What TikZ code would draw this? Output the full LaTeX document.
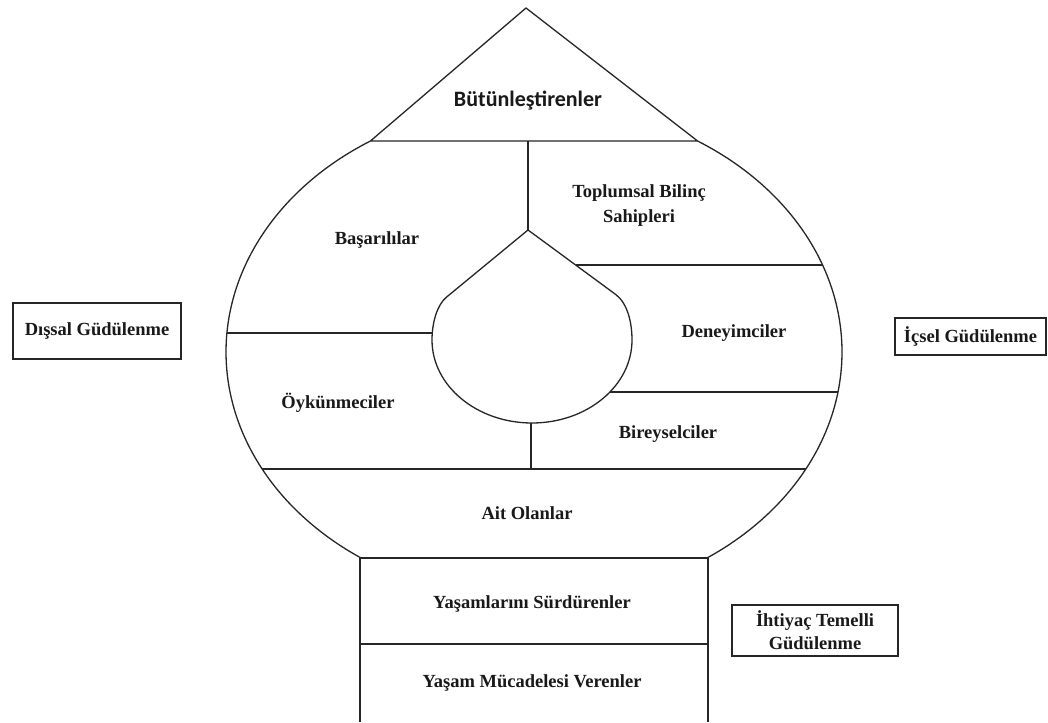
\documentclass[tikz,border=0pt]{standalone}
\usepackage{fontspec}
\setmainfont{Liberation Serif}
\newfontfamily\calfont{Carlito}
\usetikzlibrary{calc}

\begin{document}
\begin{tikzpicture}[x=1pt,y=1pt,
  outline/.style={line width=1.3pt, draw=black!85, line join=round},
  lbl/.style={font=\fontsize{18.5}{25}\selectfont\bfseries, align=center, inner sep=0pt, text=black!90},
  sidebox/.style={lbl, draw=black!85, line width=1.3pt}]
\useasboundingbox (0,0) rectangle (1048,722);
\fill[white] (0,0) rectangle (1048,722);

% outer onion body (ellipse) and its pointed top
\coordinate (C) at (534,370);
\coordinate (top) at (526,714);
\coordinate (TL) at ($(C)+(122.1:308pt and 249pt)$);
\coordinate (TR) at ($(C)+(57.9:308pt and 249pt)$);
\coordinate (BL) at ($(C)+(235.8:308pt and 249pt)$);
\coordinate (BR) at ($(C)+(-55.8:308pt and 249pt)$);

\draw[outline] (top) -- (TR) -- (TL) -- cycle;
\draw[outline] (TL) arc[start angle=122.1, end angle=235.8, x radius=308pt, y radius=249pt];
\draw[outline] (TR) arc[start angle=57.9, end angle=-55.8, x radius=308pt, y radius=249pt];

% neck
\coordinate (NL) at (360,164);
\coordinate (NR) at (708,164);
\coordinate (NLb) at (360,0);
\coordinate (NRb) at (708,0);
\coordinate (ML) at (360,78);
\coordinate (MR) at (708,78);
\draw[outline] (NLb) -- (NL) -- (NR) -- (NRb);
\draw[outline] (ML) -- (MR);

% inner drop: pointed top, rounded bottom
\coordinate (D) at (528,492);
\coordinate (DL) at (446.3,424.7);
\coordinate (DR) at (615.6,427.6);
\coordinate (DW) at (432,382);
\coordinate (DE) at (632,382);
\draw[outline] (D) -- (DL) .. controls (437,417) and (432,399) .. (DW)
  arc[start angle=180, end angle=360, x radius=100pt, y radius=83pt]
  .. controls (632,399) and (627.7,418.7) .. (DR) -- cycle;

% dividers
\coordinate (V1a) at (528,581);
\coordinate (V2a) at (531,299);
\coordinate (V2b) at (531,253);
\coordinate (L1a) at (226.9,389);
\coordinate (L1b) at (432.2,389);
\coordinate (R1a) at (575.6,457);
\coordinate (R1b) at (822.6,457);
\coordinate (R2a) at (609.9,330);
\coordinate (R2b) at (838.0,330);
\coordinate (A1) at (262.1,253);
\coordinate (A2) at (805.9,253);
\draw[outline] (V1a) -- (D);
\draw[outline] (V2a) -- (V2b);
\draw[outline] (L1a) -- (L1b);
\draw[outline] (R1a) -- (R1b);
\draw[outline] (R2a) -- (R2b);
\draw[outline] (A1) -- (A2);

% labels
\node[lbl, font=\calfont\fontsize{22}{26}\selectfont\bfseries] (but) at (528,621) {Bütünleştirenler};
\node[lbl] (top2) at (639,516) {Toplumsal Bilinç\\Sahipleri};
\node[lbl] (bas) at (377,482) {Başarılılar};
\node[lbl] (oyk) at (338,319) {Öykünmeciler};
\node[lbl] (den) at (734,389) {Deneyimciler};
\node[lbl] (bir) at (668,288) {Bireyselciler};
\node[lbl] (ait) at (527,209) {Ait Olanlar};
\node[lbl] (yss) at (532,118) {Yaşamlarını Sürdürenler};
\node[lbl] (ymv) at (532,39) {Yaşam Mücadelesi Verenler};

% motivation boxes
\node[sidebox, minimum width=168pt, minimum height=56pt] (dis) at (97,391) {Dışsal Güdülenme};
\node[sidebox, minimum width=151pt, minimum height=37pt] (ic) at (970.5,385.5) {İçsel Güdülenme};
\node[sidebox, minimum width=166pt, minimum height=51pt, font=\fontsize{18.5}{23}\selectfont\bfseries] (iht) at (815,91.5) {İhtiyaç Temelli\\Güdülenme};
\end{tikzpicture}
\end{document}
